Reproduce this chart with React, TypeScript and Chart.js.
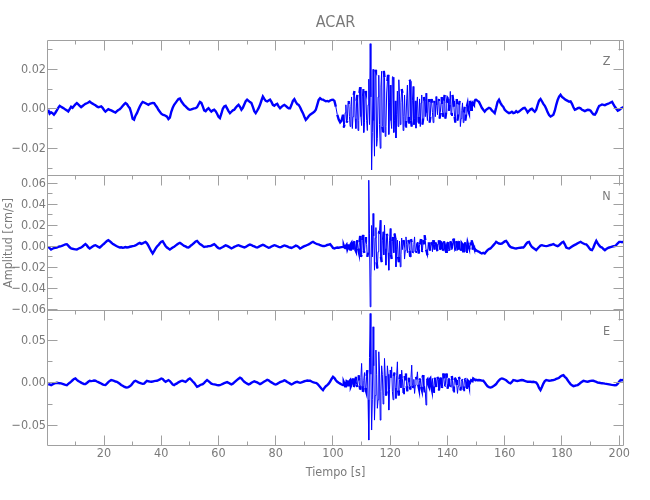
import React, { useEffect, useRef } from "react";
import { Chart, registerables } from "chart.js";

Chart.register(...registerables);

// ---- text ----
const TITLE = "ACAR";
const X_TITLE = "Tiempo [s]";
const Y_TITLE = "Amplitud [cm/s]";
const COMPONENTS = ["Z", "N", "E"];

// ---- sampling of the traces ----
const T0 = 0.5; // time of first sample [s]
const DT = 0.5; // sample interval [s]
const MID_T0 = 103.75; // extra samples inside the strong-motion window (between the regular ones)
const UNIT = 1e-4; // amplitudes below are in units of 1e-4 cm/s

// ---- axis ranges / ticks ----
const X_MIN = 0.25;
const X_MAX = 201.5;
const X_STEP = 10;
const X_LABEL_EVERY = 20;
const Y_RANGES = [
  { min: -0.0338, max: 0.0346, step: 0.01, labelEvery: 0.02 },
  { min: -0.061, max: 0.0676, step: 0.01, labelEvery: 0.02 },
  { min: -0.0738, max: 0.0851, step: 0.025, labelEvery: 0.05 },
];

// ---- traces (1e-4 cm/s), 0.5 s per sample, one row = 10 s ----
const zAmp = [
  -5, -25, -18, -22, -30, -20, -8, 5, 15, 10, 6, 2, -4, -8, -14, -2, 10, 5, 14, 22,
  29, 22, 15, 8, 14, 20, 25, 28, 32, 37, 30, 26, 22, 18, 12, 8, 10, 12, 5, -6,
  -14, -8, -2, -5, -8, -12, -16, -19, -12, -6, -2, 5, 14, 22, 29, 24, 12, 3, -20, -50,
  -55, -35, -22, -5, 12, 25, 35, 32, 28, 24, 20, 25, 28, 30, 29, 18, 8, -5, -15, -25,
  -30, -32, -35, -40, -52, -45, -15, 5, 20, 30, 40, 50, 52, 38, 28, 18, 12, 5, -2, -5,
  -3, 0, 2, 3, 8, 22, 35, 30, 12, -8, -12, -3, 3, -6, -14, -8, -5, -12, -25, -40,
  -47, -25, 0, 12, 15, 2, -12, -22, -15, -8, -5, 5, 14, 20, 10, -5, 5, 22, 38, 46,
  40, 34, 29, 10, -12, -22, -10, 3, 20, 42, 62, 50, 40, 37, 42, 46, 35, 20, 15, 22,
  25, 12, 3, 10, 16, 20, 15, 8, 3, 3, 20, 40, 49, 35, 24, 20, 8, -8, -22, -40,
  -56, -48, -38, -30, -25, -20, -14, -5, 20, 45, 54, 48, 46, 42, 38, 40, 37, 42, 45, 46,
  40, 10, -30, -55, -69, -60, -30, -80, 20, -60, 40, -90, 60, -40, 90, -100, 70, -60, 110, -85,
  100, -70, 80, -110, 150, 330, -310, 200, -240, 190, -150, 170, -200, 190, -120, 160, -90, 140, -130, 120,
  -100, 160, -60, -148, 90, 147, -80, 100, -110, 70, -60, 120, -40, 140, -90, 113, -50, -98, 60, -40,
  -90, 70, -50, 40, 79, -60, 50, -40, 30, -70, 40, 62, -30, 50, -20, 60, -40, 70, -20, 55,
  -10, 88, -20, 40, -40, 30, -60, 20, -90, -10, -70, 10, -30, 25, -20, 30, 10, 25, 40, 46,
  40, 35, 20, 5, -5, -14, -5, 0, 5, 2, -8, -15, -22, 5, 35, 46, 30, 18, 10, -5,
  -12, -18, -22, -20, -15, -22, -20, -12, -18, -14, -8, -2, 3, 5, -5, -18, -10, -3, 0, -8,
  -15, -5, 20, 42, 50, 38, 25, 15, 0, -18, -32, -39, -35, -30, -10, 20, 45, 62, 71, 60,
  55, 48, 44, 40, 36, 38, 25, 8, -5, -2, 3, 5, 2, -5, -8, -12, -8, -5, -6, -10,
  -20, -28, -30, -18, 0, 15, 18, 22, 20, 18, 22, 25, 28, 32, 35, 22, 10, 0, -10, -6,
  0, 5, 8,
];
// extra samples at 103.75, 104.25, ... 149.75 s (one row = 5 s)
const zMid = [
  -95, -20, -70, 30, -40, 10, -100, 70, -50, 40,
  -110, 80, -40, 60, -120, 90, -60, 20, -80, 60,
  -120, -60, 197, -190, 60, -80, 110, -90, 192, -140,
  80, 172, 30, -60, 160, -120, 40, -30, -90, 60,
  30, 80, -40, -90, 50, -70, 147, -60, 40, -80,
  40, 20, -70, 50, 30, -80, 60, -40, -20, 40,
  -70, 50, -20, 30, -40, 20, 45, -50, 30, -20,
  40, -50, 30, 50, 20, -30, 70, 10, -70, 50,
  -30, 40, -50, 30, -20, -60, 10, -10, 40, -5,
  30, 20, 45,
];

const nAmp = [
  -4, -15, -29, -22, -15, -12, -10, -5, 0, 3, 8, 14, 20, 22, 8, -8, -19, -22, -25, -28,
  -29, -22, -15, -10, 0, 12, 22, 10, -8, -19, -10, 0, 8, 12, 5, -4, -10, 2, 15, 25,
  40, 52, 60, 50, 38, 25, 18, 10, 2, -5, -10, -8, -12, -10, -6, -10, -8, -3, 0, 3,
  6, 10, 18, 28, 34, 25, 30, 38, 44, 30, 8, -19, -45, -67, -45, -20, 0, 12, 30, 45,
  50, 28, 5, -10, -20, -29, -20, -10, -2, 8, 18, 28, 34, 25, 15, 5, 0, -8, -10, 0,
  12, 22, 35, 48, 53, 38, 22, 15, 5, -4, -2, 0, 3, 3, 8, 15, 22, 10, -5, -15,
  -19, -12, -5, 3, 10, 5, -2, -10, -18, -12, -4, 2, 8, 12, 6, 0, -5, -10, -4, 5,
  12, 18, 14, 6, 0, -6, -10, -4, 4, 10, 15, 10, 2, -5, -12, -8, 0, 6, 12, 8,
  2, -4, -8, -3, 4, 10, 6, 0, -6, -10, -14, -8, 0, 8, 4, -6, -19, -12, -4, 3,
  8, 14, 20, 28, 38, 44, 35, 28, 22, 20, 12, 8, 4, 3, 8, 14, 18, 22, 5, -15,
  -19, -14, -10, -12, -8, -6, -4, -10, 5, -25, 20, -30, 35, -20, 50, -45, 60, -50, 100, -80,
  110, -60, 90, -99, 631, -575, 200, 314, -226, 180, -210, 120, 250, -150, 140, 203, -178, 100, -226, 171,
  -120, 90, 124, -194, 60, -150, -194, 80, 60, -120, 91, -60, 50, -99, 40, -50, 91, -40, 30, -67,
  40, -50, 60, 108, -30, -83, 40, -40, 30, 60, -30, 20, -45, 60, -20, 35, -40, 25, -51, 30,
  -30, 50, -20, 75, -35, 50, -25, 40, -40, 30, -45, 20, -51, 35, -10, 40, 60, 10, -20, -35,
  -45, -50, -60, -67, -60, -67, -50, -35, -25, -19, -5, 10, 25, 44, 35, 28, 25, 28, 38, 48,
  53, 35, 10, -4, -10, -14, -18, -19, -16, -14, -12, -10, -10, 5, 25, 40, 44, 15, -4, -15,
  -25, -35, -20, -5, 8, 12, 8, 5, 3, 6, 10, 14, 18, 22, 14, 8, 3, 12, 25, 38,
  44, 20, -10, -15, -19, -10, 0, 8, 15, 22, 30, 38, 44, 35, 28, 22, 20, 5, -15, -30,
  -35, -10, 25, 53, 30, 10, -5, -10, -25, -35, -25, -15, -10, -6, -2, 2, 3, 15, 30, 44,
  44, 40, 45,
];
const nMid = [
  10, -15, 15, -5, -20, 25, -10, 30, -30, 20,
  -20, 40, -100, 60, -40, 50, 20, -60, 120, -300,
  -100, 100, 80, -150, -50, 150, -100, 60, -80, -20,
  120, -60, 60, -80, 50, -60, 80, -30, -100, 50,
  -80, -30, 40, -40, 20, 60, -40, 70, -60, 20,
  -50, 30, -30, 20, 70, -40, 20, 60, -50, 20,
  -20, 40, -50, 20, 40, -20, 30, -30, 40, -20,
  50, -30, -10, 40, -40, 30, -20, 50, -40, 30,
  -20, 50, -30, 20, -30, 40, -20, 10, -30, 20,
  -30, -10, -40,
];

const eAmp = [
  -15, -20, -27, -18, -10, -4, 0, -3, -5, -7, -12, -18, -24, -27, -12, 0, 15, 30, 45, 51,
  35, 22, 12, 2, -8, -14, -15, -2, 12, 24, 20, 22, 26, 24, 15, 8, 0, -8, -18, -25,
  -27, -10, 8, 22, 32, 28, 22, 15, 12, 0, -12, -25, -35, -45, -52, -55, -50, -40, -27, -5,
  15, 24, 15, 5, 0, -8, -12, -10, 8, 24, 18, 14, 12, 15, 20, 22, 24, 30, 40, 51,
  45, 25, 12, 22, 32, 20, 0, -20, -27, -15, -7, 5, 15, 22, 24, 18, 12, 25, 42, 51,
  35, 15, 0, -25, -47, -40, -28, -20, -15, 0, 18, 32, 20, 5, -10, -15, -18, -22, -27, -28,
  -27, -20, -12, -5, 2, 8, 0, -10, -18, -10, 5, 20, 35, 48, 60, 50, 30, 12, 0, -10,
  -18, -12, 0, 10, 18, 12, 5, -5, -15, -8, 5, 15, 25, 35, 28, 15, 5, -5, -15, -20,
  -12, -2, 8, 14, 20, 28, 22, 10, 0, -10, -20, -12, 0, 8, 12, 6, 0, 5, 12, 18,
  22, 26, 24, 24, 15, 8, 2, 0, -10, -30, -50, -70, -86, -60, -40, -27, -10, 15, 45, 71,
  55, 30, 12, 0, -10, -20, -27, -10, -30, 15, -25, 30, -20, 50, -30, 70, -50, 90, -80, 228,
  -106, 120, -90, 150, -674, 816, -556, 659, -439, 385, -300, 365, -439, 200, -250, 287, -150, 200, -321, 150,
  188, -200, 120, -184, 247, -150, 100, 149, -120, 80, 110, -100, 60, -80, 208, -60, -125, 70, 129, -60,
  50, -80, 90, -100, -262, 40, -40, 51, -70, -106, 60, -50, 70, -90, 50, -60, 110, -40, 110, -70,
  40, -47, 80, -100, 60, 32, -125, 70, -90, 40, -86, 50, -60, 30, -20, 12, 30, 51, 40, 35,
  30, 32, 30, 26, 24, 5, -20, -40, -50, -55, -50, -40, -28, -15, 10, 30, 45, 51, 45, 39,
  30, 15, 0, -7, 10, 32, 28, 24, 22, 26, 30, 32, 30, 24, 18, 12, 14, 12, 10, 12,
  8, 3, -20, -60, -86, -50, -10, 20, 32, 28, 24, 26, 30, 32, 38, 45, 51, 60, 75, 85,
  90, 70, 55, 30, 5, -15, -30, -39, -35, -30, -27, -15, 0, 12, 24, 20, 15, 12, 18, 22,
  24, 24, 18, 10, 2, 0, -3, -5, -7, -10, -12, -15, -18, -22, -25, -27, -28, -27, -10, 15,
  32, 30, 35,
];
const eMid = [
  10, -40, 20, -30, 20, -40, 30, -50, 40, -20,
  40, -30, 60, -40, 30, -60, 80, -200, 300, 100,
  -200, 200, -150, 100, -200, 150, -100, 100, -150, 80,
  -100, 100, -80, 60, -100, 80, -60, 90, -90, 40,
  -60, 50, -60, 40, -40, 20, -40, 60, -30, 40,
  -30, 40, -20, 30, -50, 60, -40, -100, 30, -20,
  40, -30, 50, -40, 30, -50, 40, -30, 60, -40,
  50, -30, 60, -30, 50, -40, 30, -40, 50, -30,
  -40, 40, -50, 30, -40, 40, -30, 20, -10, 30,
  20, 45, 30,
];

// ---- styles ----
const FONT = '"Liberation Sans Narrow", "DejaVu Sans Condensed", "Liberation Sans", sans-serif';
const TEXT_COLOR = "#7a7a7a";
const AXIS_COLOR = "#a0a0a0";
const TRACE_COLOR = "#0000ff";
const PANEL_IDS = ["yZ", "yN", "yE"];

const fmt = (v: number) => {
  const s = Math.abs(v) < 1e-12 ? "0.00" : Math.abs(v).toFixed(2);
  return v < -1e-12 ? "\u2212" + s : s;
};

const framePlugin = {
  id: "frame",
  afterDatasetsDraw(chart: any) {
    const { ctx, chartArea: ca, scales } = chart;
    const px = (v: number) => Math.floor(v) + 0.5;
    const L = px(ca.left);
    const R = px(ca.right);
    const B = px(ca.bottom);
    ctx.save();
    ctx.strokeStyle = AXIS_COLOR;
    ctx.lineWidth = 1;
    ctx.beginPath();
    ctx.moveTo(L, px(ca.top));
    ctx.lineTo(L, B);
    ctx.moveTo(R, px(ca.top));
    ctx.lineTo(R, B);
    ctx.moveTo(L, B);
    ctx.lineTo(R, B);
    const xs = scales.x;
    PANEL_IDS.forEach((id) => {
      const s = scales[id];
      const T = px(s.top);
      ctx.moveTo(L, T);
      ctx.lineTo(R, T);
      xs.ticks.forEach((t: any) => {
        const x = px(xs.getPixelForValue(t.value));
        const len = t.label !== "" ? 10 : 4;
        ctx.moveTo(x, T);
        ctx.lineTo(x, T + len);
      });
      s.ticks.forEach((t: any) => {
        const y = px(s.getPixelForValue(t.value));
        const len = t.label !== "" ? 10 : 5;
        ctx.moveTo(L, y);
        ctx.lineTo(L + len, y);
        ctx.moveTo(R, y);
        ctx.lineTo(R - len, y);
      });
    });
    xs.ticks.forEach((t: any) => {
      const x = px(xs.getPixelForValue(t.value));
      const len = t.label !== "" ? 10 : 4;
      ctx.moveTo(x, B);
      ctx.lineTo(x, B - len);
    });
    ctx.stroke();

    ctx.fillStyle = TEXT_COLOR;
    ctx.textAlign = "center";
    ctx.textBaseline = "middle";
    ctx.font = `16px ${FONT}`;
    ctx.fillText(TITLE, (ca.left + ca.right) / 2, 23);
    ctx.font = `12.5px ${FONT}`;
    PANEL_IDS.forEach((id, i) => {
      ctx.fillText(COMPONENTS[i], ca.right - 17, scales[id].top + 21);
    });
    ctx.restore();
  },
};

export default function App() {
  const ref = useRef<HTMLCanvasElement>(null);

  useEffect(() => {
    const toPts = (a: number[], mid: number[]) =>
      a
        .map((v, i) => ({ x: T0 + i * DT, y: v * UNIT }))
        .concat(mid.map((v, i) => ({ x: MID_T0 + i * DT, y: v * UNIT })))
        .sort((p, q) => p.x - q.x);
    const traces = [
      [zAmp, zMid],
      [nAmp, nMid],
      [eAmp, eMid],
    ];

    const yScale = (i: number) => {
      const r = Y_RANGES[i];
      return {
        type: "linear",
        position: "left",
        stack: "panels",
        stackWeight: 1,
        weight: 3 - i,
        min: r.min,
        max: r.max,
        grid: { display: false, drawTicks: false },
        border: { display: false },
        ticks: {
          stepSize: r.step,
          includeBounds: false,
          autoSkip: false,
          padding: 1.5,
          color: TEXT_COLOR,
          font: { family: FONT, size: 12.5 },
          callback: (v: number) => {
            const k = Math.round(v / r.step);
            const every = Math.round(r.labelEvery / r.step);
            return k % every === 0 ? fmt(v) : "";
          },
        },
        title: {
          display: i === 1,
          text: Y_TITLE,
          color: TEXT_COLOR,
          font: { family: FONT, size: 12.5 },
          padding: { top: 1, bottom: 0 },
        },
        afterFit: (s: any) => {
          s.width = 47.5;
        },
      };
    };

    const chart = new Chart(ref.current as HTMLCanvasElement, {
      type: "line",
      data: {
        datasets: traces.map((tr, i) => ({
          label: COMPONENTS[i],
          data: toPts(tr[0], tr[1]),
          yAxisID: PANEL_IDS[i],
          borderColor: TRACE_COLOR,
          borderWidth: 2.4,
          pointRadius: 0,
          tension: 0,
          segment: {
            borderWidth: (c: any) => (Math.abs(c.p1.y - c.p0.y) > 7 ? 1 : 2.4),
          },
        })),
      },
      options: {
        responsive: false,
        animation: false,
        events: [],
        layout: { padding: { left: 0, right: 26.5, top: 40.5, bottom: 0 } },
        plugins: {
          legend: { display: false },
          tooltip: { enabled: false },
          title: { display: false },
        },
        scales: {
          x: {
            type: "linear",
            position: "bottom",
            min: X_MIN,
            max: X_MAX,
            grid: { display: false, drawTicks: false },
            border: { display: false },
            ticks: {
              stepSize: X_STEP,
              includeBounds: false,
              autoSkip: false,
              maxRotation: 0,
              padding: 1,
              color: TEXT_COLOR,
              font: { family: FONT, size: 12.5 },
              callback: (v: number) => (Math.round(v) % X_LABEL_EVERY === 0 ? String(Math.round(v)) : ""),
            },
            title: {
              display: true,
              text: X_TITLE,
              color: TEXT_COLOR,
              font: { family: FONT, size: 12.5 },
              padding: { top: 0, bottom: 20 },
            },
            afterFit: (s: any) => {
              s.height = 54.5;
            },
          },
          yZ: yScale(0),
          yN: yScale(1),
          yE: yScale(2),
        } as any,
      },
      plugins: [framePlugin],
    } as any);

    return () => chart.destroy();
  }, []);

  return (
    <div style={{ position: "absolute", left: 0, top: 0, width: 650, height: 500, background: "#fff" }}>
      <canvas ref={ref} width={650} height={500} style={{ display: "block" }} />
    </div>
  );
}
